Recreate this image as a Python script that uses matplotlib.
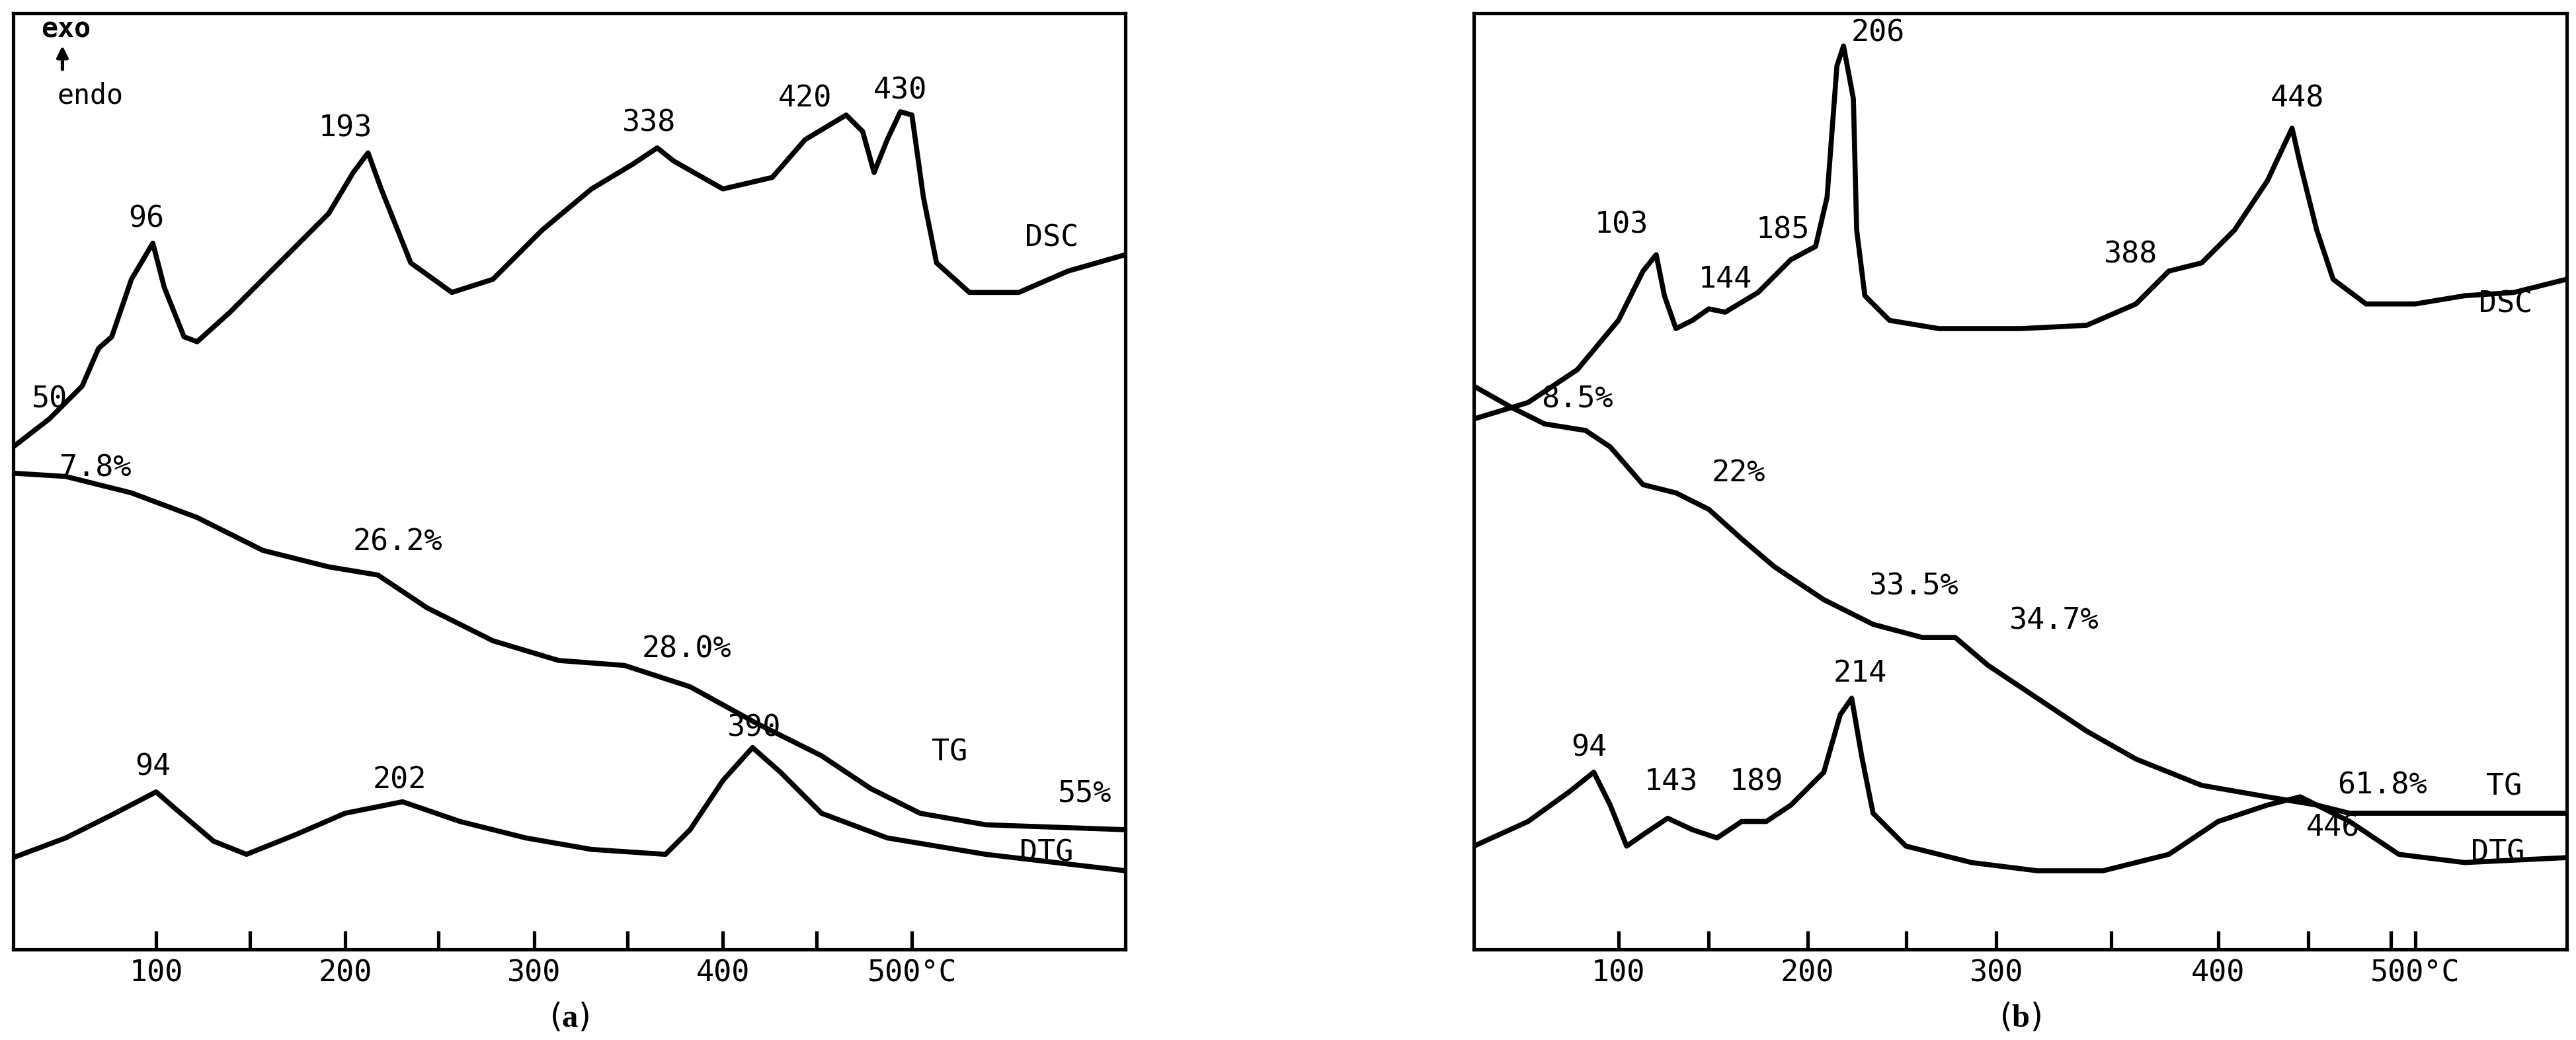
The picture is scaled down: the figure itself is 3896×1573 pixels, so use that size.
import matplotlib
matplotlib.use("Agg")
import matplotlib.pyplot as plt

plt.rcParams["mathtext.fontset"] = "custom"
plt.rcParams["mathtext.rm"] = "Liberation Serif"
plt.rcParams["mathtext.bf"] = "Liberation Serif:bold"

W, H = 1568, 633
# curves read in pixel units of the reference picture
a_dsc = [(8,272),(30,255),(50,235),(60,212),(68,205),(80,170),(93,148),(100,175),(112,205),(120,208),(140,190),(170,160),(200,130),(215,105),(224,93),(232,115),(250,160),(275,178),(300,170),(330,140),(360,115),(385,100),(400,90),(410,98),(440,115),(470,108),(490,85),(515,70),(525,80),(532,105),(540,85),(548,68),(555,70),(562,120),(570,160),(590,178),(620,178),(650,165),(685,155)]
a_tg = [(8,288),(40,290),(80,300),(120,315),(160,335),(200,345),(230,350),(260,370),(300,390),(340,402),(380,405),(420,418),(460,440),(500,460),(530,480),(560,495),(600,502),(685,505)]
a_dtg = [(8,522),(40,510),(70,495),(95,482),(110,495),(130,512),(150,520),(180,508),(210,495),(245,488),(280,500),(320,510),(360,517),(405,520),(420,505),(440,475),(458,455),(475,470),(500,495),(540,510),(600,520),(685,530)]
b_dsc = [(897,255),(930,245),(960,225),(985,195),(1000,165),(1008,155),(1013,180),(1020,200),(1030,195),(1040,188),(1050,190),(1070,178),(1090,158),(1105,150),(1112,120),(1118,40),(1122,28),(1128,60),(1130,140),(1135,180),(1150,195),(1180,200),(1230,200),(1270,198),(1300,185),(1320,165),(1340,160),(1360,140),(1380,110),(1395,78),(1400,100),(1410,140),(1420,170),(1440,185),(1470,185),(1500,180),(1530,178),(1562,170)]
b_tg = [(897,235),(920,248),(940,258),(965,262),(980,272),(1000,295),(1020,300),(1040,310),(1060,328),(1080,345),(1110,365),(1140,380),(1170,388),(1190,388),(1210,405),(1240,425),(1270,445),(1300,462),(1340,478),(1380,485),(1410,490),(1430,495),(1480,495),(1562,495)]
b_dtg = [(897,515),(930,500),(955,482),(970,470),(980,490),(990,515),(1000,508),(1015,498),(1030,505),(1045,510),(1060,500),(1075,500),(1090,490),(1110,470),(1120,435),(1127,425),(1133,460),(1140,495),(1160,515),(1200,525),(1240,530),(1280,530),(1320,520),(1350,500),(1380,490),(1400,485),(1430,500),(1460,520),(1500,525),(1562,522)]

a_labels = [("50",30,243),("96",89,133),("193",210,78),("338",395,75),("420",490,60),("430",548,55),("DSC",640,145),
            ("7.8%",58,285),("26.2%",242,330),("28.0%",418,395),("TG",578,458),("55%",660,483),
            ("94",93,467),("202",243,475),("390",459,443),("DTG",637,519)]
b_labels = [("103",987,137),("144",1050,170),("185",1085,140),("206",1143,20),("388",1297,155),("448",1398,60),("DSC",1525,185),
            ("8.5%",960,243),("22%",1058,288),("33.5%",1165,357),("34.7%",1250,378),("61.8%",1450,478),("TG",1524,479),
            ("94",967,455),("143",1017,476),("189",1069,476),("214",1132,410),("446",1420,504),("DTG",1520,519)]
a_ticks = [95,210,325,440,555]; a_minor = [152,267,382,497]
b_ticks = [985,1100,1215,1350,1470]; b_minor = [1040,1160,1285,1405,1455]
tick_text = ["100","200","300","400","500°C"]

fig = plt.figure(figsize=(W/250*2.485, H/250*2.485), dpi=250)
mono = "DejaVu Sans Mono"

def panel(x0, x1, curves, labels, ticks, minor, letter):
    ax = fig.add_axes([x0/W, 1-578/H, (x1-x0)/W, 570/H])
    for c in curves:
        xs, ys = zip(*c)
        ax.plot(xs, ys, color="black", lw=2.2, solid_joinstyle="round")
    for t, x, y in labels:
        ax.text(x, y, t, ha="center", va="center", fontsize=13, family=mono)
    ax.set_xlim(x0, x1); ax.set_ylim(578, 8)
    ax.set_yticks([])
    ax.set_xticks(ticks); ax.set_xticklabels(tick_text, family=mono, fontsize=13)
    ax.set_xticks(minor, minor=True)
    ax.tick_params(axis="x", which="both", direction="in", length=8, width=1.5, pad=4)
    for s in ax.spines.values():
        s.set_linewidth(1.5)
    fig.text((x0+x1)/2/W, 1-619/H, r"($\mathbf{%s}$)" % letter, ha="center", va="center", fontsize=14)
    return ax

ax = panel(8, 685, [a_dsc, a_tg, a_dtg], a_labels, a_ticks, a_minor, "a")
ax.text(40, 18, "exo", ha="center", va="center", fontsize=12, family=mono, weight="bold")
ax.annotate("", xy=(38, 25), xytext=(38, 45), arrowprops=dict(arrowstyle="-|>", color="black", lw=1.5))
ax.text(55, 58, "endo", ha="center", va="center", fontsize=12, family=mono)
panel(897, 1562, [b_dsc, b_tg, b_dtg], b_labels, b_ticks, b_minor, "b")

fig.savefig("out.png", dpi=250)
